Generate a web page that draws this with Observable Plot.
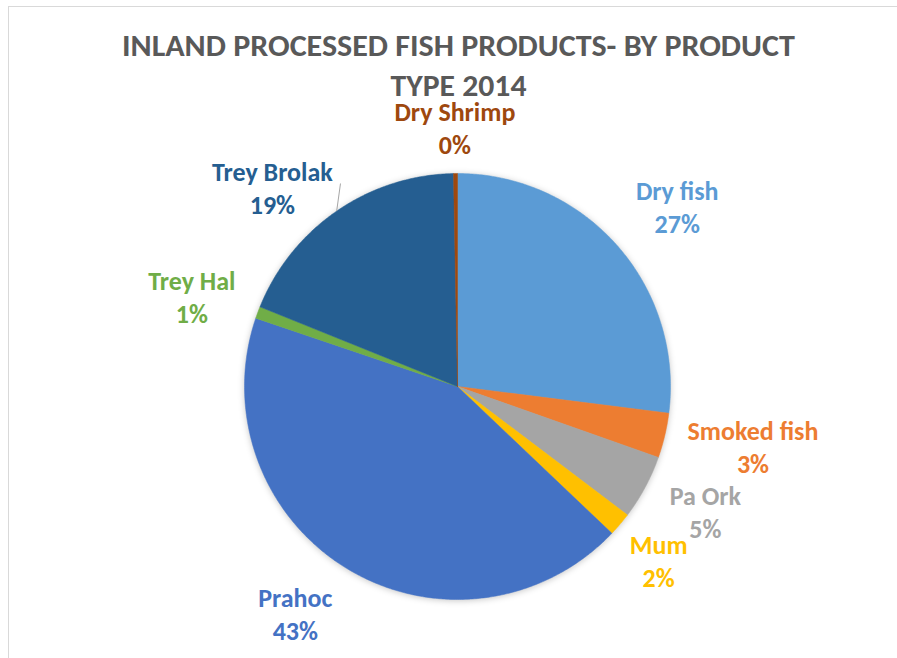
<!DOCTYPE html>
<html><head><meta charset="utf-8">
<script src="https://cdn.jsdelivr.net/npm/d3@7"></script>
<script src="https://cdn.jsdelivr.net/npm/@observablehq/plot@0.6"></script>
<style>
body{margin:0;background:#fff;}
#wrap{position:relative;width:897px;height:658px;overflow:hidden;background:#fff;}
#border{position:absolute;left:8px;top:6px;width:1000px;height:1000px;border-left:1.5px solid #d9d9d9;border-top:1.5px solid #d9d9d9;}
#chart{position:absolute;left:0;top:0;}
</style></head><body>
<div id="wrap"><div id="border"></div><div id="chart"></div></div>
<script>
// ---- data ----
const categories = ["Dry fish", "Smoked fish", "Pa Ork", "Mum", "Prahoc", "Trey Hal", "Trey Brolak", "Dry Shrimp"];
const shares = [27.0, 3.4, 4.9, 1.8, 43.1, 0.9, 18.6, 0.3];
const shareLabels = ["27%", "3%", "5%", "2%", "43%", "1%", "19%", "0%"];
const titleLines = ["INLAND PROCESSED FISH PRODUCTS- BY PRODUCT", "TYPE 2014"];

// ---- styles / layout ----
const colors = ["#5B9BD5", "#ED7D31", "#A5A5A5", "#FFC000", "#4472C4", "#70AD47", "#255E91", "#9E480E"];
const labelNudge = [[12, 3], [26, -4], [4, -7], [-10, -6], [-19, -11], [-6, 6], [-28, 28], [0, 17]];
const labelRadius = 1.3;
const titleWidths = [673, 136];
const font = "Calibri, Carlito, Lato, sans-serif";

const total = d3.sum(shares);
let acc = 0;
const slices = categories.map((name, i) => {
  const a0 = acc / total * 2 * Math.PI;
  acc += shares[i];
  const a1 = acc / total * 2 * Math.PI;
  return {name, a0, a1, mid: (a0 + a1) / 2, label: shareLabels[i], color: colors[i]};
});
const arcPts = slices.flatMap(s => {
  const n = Math.max(2, Math.ceil((s.a1 - s.a0) / (Math.PI / 360)));
  const pts = [{name: s.name, x: 0, y: 0}];
  for (let k = 0; k <= n; k++) {
    const a = s.a0 + (s.a1 - s.a0) * k / n;
    pts.push({name: s.name, x: Math.sin(a), y: Math.cos(a)});
  }
  pts.push({name: s.name, x: 0, y: 0});
  return pts;
});

const brolak = slices.find(s => s.name === "Trey Brolak");
const leader = [{
  x1: Math.sin(brolak.mid), y1: Math.cos(brolak.mid),
  x2: 1.1 * Math.sin(brolak.mid + 4.6 * Math.PI / 180), y2: 1.1 * Math.cos(brolak.mid + 4.6 * Math.PI / 180)
}];

const plot = Plot.plot({
  width: 897,
  height: 658,
  marginLeft: 244, marginRight: 227, marginTop: 173, marginBottom: 59,
  x: {domain: [-1, 1], axis: null},
  y: {domain: [-1, 1], axis: null},
  color: {type: "ordinal", domain: categories, range: colors},
  style: {background: "transparent", fontFamily: font},
  marks: [
    Plot.line(arcPts, {x: "x", y: "y", z: "name", fill: "name", stroke: "name", strokeWidth: 0.5, curve: "linear"}),
    Plot.link(leader, {x1: "x1", y1: "y1", x2: "x2", y2: "y2", stroke: "#a6a6a6", strokeWidth: 1}),
    ...slices.map((s, i) => Plot.text([s], {
      x: d => labelRadius * Math.sin(d.mid),
      y: d => labelRadius * Math.cos(d.mid),
      text: d => `${d.name}\n${d.label}`,
      fill: s.color, fontSize: 26, fontWeight: "bold", fontFamily: font,
      lineHeight: 33 / 26, dx: labelNudge[i][0], dy: labelNudge[i][1]
    })),
    Plot.text([titleLines[0]], {frameAnchor: "top", lineAnchor: "middle", text: d => d, dx: 1, dy: -127, fill: "#595959", fontSize: 30, fontWeight: "bold", fontFamily: font}),
    Plot.text([titleLines[1]], {frameAnchor: "top", lineAnchor: "middle", text: d => d, dx: 1, dy: -87, fill: "#595959", fontSize: 30, fontWeight: "bold", fontFamily: font})
  ]
});
const lineG = plot.querySelector('g[aria-label="line"]');
if (lineG) lineG.style.filter = "drop-shadow(0px 1px 3px rgba(0,0,0,0.22))";
plot.querySelectorAll("text").forEach(t => {
  const idx = titleLines.indexOf(t.textContent);
  if (idx >= 0) {
    t.setAttribute("textLength", titleWidths[idx]);
    t.setAttribute("lengthAdjust", "spacingAndGlyphs");
  }
});
document.getElementById("chart").appendChild(plot);
</script>
</body></html>
